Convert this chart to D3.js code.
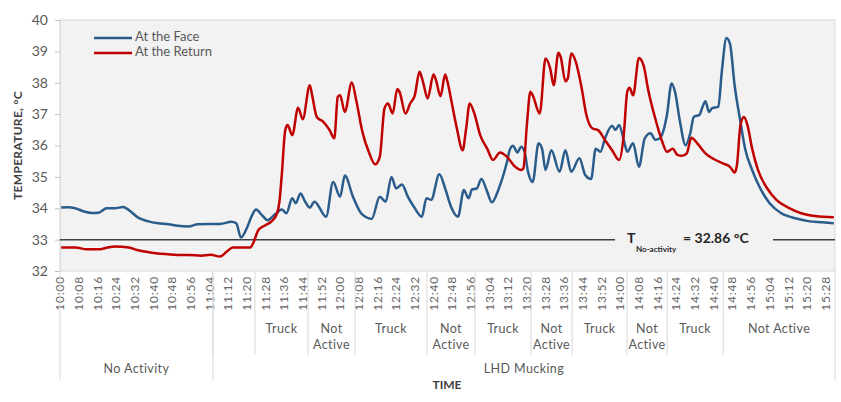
<!DOCTYPE html>
<html>
<head>
<meta charset="utf-8">
<script src="https://cdn.jsdelivr.net/npm/d3@7"></script>
<style>
  body { margin: 0; background: #fff; }
  svg { display: block; font-family: Lato, "Open Sans", sans-serif; }
</style>
</head>
<body>
<div id="chart"></div>
<script>
// Chart size
const width = 841;
const height = 402;
const marginLeft = 60;
const marginRight = 6;
const marginTop = 20;
const plotBottom = 271;

// Data, minutes after 10:00 and temperature in °C
const faceMinutes = [0, 3, 6, 10, 13, 16, 19.5, 23, 26.5, 29, 33, 37, 41.5, 46, 50, 54.5, 58.5, 63.5, 68, 73, 75, 77, 79.5, 81.5, 83.5, 86, 88.5, 91.5, 94.5, 96.5, 99, 100.5, 102.5, 104.5, 106.5, 108.5, 113.5, 116.5, 119.5, 121.5, 125, 128.5, 130.5, 133, 136.5, 139, 141.5, 143.5, 146, 148.5, 151.5, 154.5, 156.5, 158.5, 162, 164.5, 167, 170, 172.5, 174.5, 176, 178, 180, 182.5, 184.5, 187.5, 189, 191, 192, 193.5, 195.5, 197, 198.5, 200, 202, 204.5, 206, 207.5, 210, 213.5, 216, 218.5, 222, 224.5, 227, 229, 231, 233, 236, 237.5, 239, 241, 242.5, 245, 247.5, 250, 252.5, 254.5, 256.5, 259.5, 261.5, 263, 265, 267.5, 269.5, 271, 273.5, 274.5, 276, 277.5, 279, 281.5, 283, 285, 286.5, 288.5, 291, 293, 296, 299.5, 303.5, 308.5, 314.5, 320, 326, 331];
const faceTemps = [34.02, 34.03, 34.0, 33.89, 33.85, 33.86, 34.0, 34.0, 34.04, 33.94, 33.70, 33.59, 33.52, 33.49, 33.44, 33.42, 33.49, 33.5, 33.5, 33.57, 33.52, 33.07, 33.36, 33.73, 33.96, 33.78, 33.62, 33.8, 33.96, 33.84, 34.32, 34.16, 34.47, 34.21, 34.02, 34.21, 33.73, 34.84, 34.37, 35.04, 34.37, 33.84, 33.72, 33.66, 34.37, 34.21, 35.0, 34.63, 34.76, 34.37, 34.0, 33.73, 34.32, 34.27, 35.08, 34.63, 34.05, 33.73, 34.58, 34.32, 34.6, 34.63, 34.93, 34.53, 34.19, 34.63, 34.95, 35.48, 35.82, 35.99, 35.78, 35.96, 35.8, 35.16, 34.84, 36.07, 35.9, 35.22, 35.85, 35.16, 35.85, 35.16, 35.59, 35.06, 34.93, 35.9, 35.8, 36.23, 36.63, 36.5, 36.65, 36.18, 35.8, 36.07, 35.32, 36.23, 36.39, 36.18, 36.23, 36.97, 37.98, 37.7, 36.8, 36.01, 36.39, 36.91, 36.98, 37.18, 37.41, 37.07, 37.2, 37.23, 38.35, 39.43, 39.25, 37.92, 36.75, 35.9, 35.22, 34.63, 34.16, 33.84, 33.68, 33.59, 33.55, 33.52];

const returnMinutes = [0, 6, 11, 16, 19.5, 23, 29, 32.5, 37.5, 44.5, 50, 54.5, 60, 64, 68, 71, 73.5, 77, 81, 82.5, 84.5, 87.5, 90, 92.5, 93.5, 94.5, 96, 97, 99, 101.5, 103.5, 106.5, 107.5, 109.5, 112.5, 115, 117, 118.5, 119.5, 121.5, 124.5, 126.5, 129, 132, 134.5, 136.5, 138.5, 140, 142, 144, 145, 147.5, 149.5, 151.5, 153.5, 155, 157, 159.5, 160.5, 162.5, 164.5, 165.5, 167.5, 169.5, 172, 173.5, 175, 177, 179.5, 182.5, 185, 188, 191, 194.5, 197, 198, 199.5, 201, 202, 205, 207.5, 209.5, 211, 213, 214, 216, 217, 218.5, 220.5, 223, 225, 227.5, 230, 233, 236, 239, 241, 242.5, 243.5, 245, 247.5, 249.5, 251.5, 254.5, 257.5, 259.5, 262, 264, 266, 268, 270, 272.5, 276, 279.5, 283.5, 286.5, 288.5, 289.5, 291, 292.5, 294, 296, 298.5, 302.5, 306.5, 311.5, 317, 323, 331];
const returnTemps = [32.75, 32.75, 32.69, 32.69, 32.74, 32.78, 32.75, 32.67, 32.6, 32.54, 32.51, 32.51, 32.49, 32.52, 32.46, 32.62, 32.75, 32.75, 32.75, 32.93, 33.31, 33.46, 33.57, 33.84, 34.21, 35.06, 36.49, 36.65, 36.33, 37.2, 36.84, 37.92, 37.6, 36.91, 36.74, 36.49, 36.23, 37.55, 37.6, 37.07, 38.01, 37.4, 36.45, 35.75, 35.4, 35.64, 37.18, 37.34, 37.02, 37.8, 37.7, 37.02, 37.34, 37.6, 38.35, 38.03, 37.5, 38.26, 38.1, 37.57, 38.26, 38.03, 37.29, 36.55, 35.85, 36.55, 37.34, 37.02, 36.33, 35.9, 35.54, 35.78, 35.64, 35.32, 35.22, 35.27, 36.65, 37.71, 37.6, 37.02, 38.77, 38.45, 37.92, 38.96, 38.82, 38.05, 38.13, 38.93, 38.66, 37.82, 36.97, 36.55, 36.49, 36.17, 35.85, 35.54, 36.33, 37.71, 37.84, 37.6, 38.79, 38.55, 37.76, 36.86, 36.12, 35.8, 35.9, 35.7, 35.67, 35.75, 36.25, 36.07, 35.75, 35.57, 35.43, 35.32, 35.14, 35.38, 36.65, 36.91, 36.65, 35.9, 35.22, 34.63, 34.26, 34.02, 33.84, 33.75, 33.71];

const seriesNames = ["At the Face", "At the Return"];
const seriesColors = ["#2a5c8b", "#c00000"];

// Axis setup
const firstMinute = 0;
const lastMinute = 331;
const tickStep = 8;
const yTicks = [32, 33, 34, 35, 36, 37, 38, 39, 40];

// Reference line
const baselineLevel = 33;
const baselineLabel = "= 32.86 °C";

// Activity phases (start minute, label)
const activityStarts = [65, 83, 105.75, 125.9, 156.7, 177.3, 201.3, 218.9, 242.4, 259.6, 283.6];
const activityLabels = ["", "Truck", "Not|Active", "Truck", "Not|Active", "Truck", "Not|Active", "Truck", "Not|Active", "Truck", "Not Active"];
const stageStarts = [-0.5, 65];
const stageLabels = ["No Activity", "LHD Mucking"];

const svg = d3.select("#chart")
  .append("svg")
  .attr("width", width)
  .attr("height", height)
  .attr("viewBox", [0, 0, width, height]);

const x = d3.scaleLinear()
  .domain([firstMinute - 0.5, lastMinute + 0.5])
  .range([marginLeft, width - marginRight]);

const y = d3.scaleLinear()
  .domain([32, 40])
  .range([plotBottom, marginTop]);

// Plot background
svg.append("rect")
  .attr("x", x.range()[0])
  .attr("y", marginTop)
  .attr("width", x.range()[1] - x.range()[0])
  .attr("height", plotBottom - marginTop)
  .attr("fill", "#f2f2f2")
  .attr("stroke", "#d9d9d9");

// Y axis
const yAxis = svg.append("g")
  .attr("transform", `translate(${marginLeft},0)`)
  .call(d3.axisLeft(y).tickValues(yTicks).tickSize(5).tickPadding(7));
yAxis.select(".domain").attr("stroke", "#d9d9d9");
yAxis.selectAll(".tick line").attr("stroke", "#bfbfbf");
yAxis.selectAll(".tick text")
  .attr("fill", "#595959")
  .style("font-size", "14px")
  .style("font-family", "Lato, sans-serif");

svg.append("text")
  .attr("transform", `translate(19,${(marginTop + plotBottom) / 2}) rotate(-90)`)
  .attr("text-anchor", "middle")
  .attr("dominant-baseline", "middle")
  .attr("fill", "#404040")
  .style("font-size", "12px")
  .style("font-weight", "bold")
  .style("letter-spacing", "0.3px")
  .text("TEMPERATURE, °C");

// X tick labels (every 8 minutes)
const fmt = m => {
  const h = 10 + Math.floor(m / 60);
  const mm = m % 60;
  return `${h}:${String(mm).padStart(2, "0")}`;
};
const xTicks = d3.range(firstMinute, lastMinute, tickStep);
svg.append("g")
  .selectAll("text")
  .data(xTicks)
  .join("text")
  .attr("transform", d => `translate(${x(d)},${plotBottom + 5}) rotate(-90)`)
  .attr("text-anchor", "end")
  .attr("dominant-baseline", "middle")
  .attr("fill", "#666")
  .style("font-size", "12px")
  .style("letter-spacing", "0.8px")
  .text(fmt);

// Category separators
const sep = svg.append("g").attr("stroke", "#d9d9d9");
sep.selectAll("line.act")
  .data(activityStarts)
  .join("line")
  .attr("x1", d => x(d)).attr("x2", d => x(d))
  .attr("y1", plotBottom).attr("y2", 355);
sep.selectAll("line.stage")
  .data([...stageStarts, lastMinute + 0.5])
  .join("line")
  .attr("class", "stage")
  .attr("x1", d => x(d)).attr("x2", d => x(d))
  .attr("y1", plotBottom).attr("y2", 380);

// Activity labels
const actEnds = [...activityStarts.slice(1), lastMinute + 0.5];
const act = svg.append("g")
  .attr("fill", "#595959")
  .style("font-size", "12.5px")
  .style("letter-spacing", "0.4px");
activityLabels.forEach((lab, i) => {
  const cx = (x(activityStarts[i]) + x(actEnds[i])) / 2;
  lab.split("|").forEach((part, j) => {
    act.append("text")
      .attr("x", cx)
      .attr("y", 330 + j * 16)
      .attr("text-anchor", "middle")
      .attr("dominant-baseline", "middle")
      .text(part);
  });
});

const stageEnds = [...stageStarts.slice(1), lastMinute + 0.5];
svg.append("g")
  .selectAll("text")
  .data(stageLabels)
  .join("text")
  .attr("x", (d, i) => (x(stageStarts[i]) + x(stageEnds[i])) / 2)
  .attr("y", 370)
  .attr("text-anchor", "middle")
  .attr("dominant-baseline", "middle")
  .attr("fill", "#595959")
  .style("font-size", "12.5px")
  .style("letter-spacing", "0.4px")
  .text(d => d);

svg.append("text")
  .attr("x", 447)
  .attr("y", 386)
  .attr("text-anchor", "middle")
  .attr("dominant-baseline", "middle")
  .attr("fill", "#404040")
  .style("font-size", "12px")
  .style("font-weight", "bold")
  .text("TIME");

// Reference line with label
const refY = y(baselineLevel);
const refLabel = svg.append("g").attr("fill", "#262626").style("font-weight", "bold");
refLabel.append("text")
  .attr("x", 627).attr("y", refY)
  .attr("dominant-baseline", "middle")
  .style("font-size", "14px")
  .text("T");
refLabel.append("text")
  .attr("x", 636).attr("y", refY + 10)
  .attr("dominant-baseline", "middle")
  .style("font-size", "8px")
  .text("No-activity");
refLabel.append("text")
  .attr("x", 683).attr("y", refY)
  .attr("dominant-baseline", "middle")
  .style("font-size", "14px")
  .text(baselineLabel);

const refLines = [[x.range()[0], 615], [773, x.range()[1]]];
svg.append("g")
  .selectAll("line")
  .data(refLines)
  .join("line")
  .attr("x1", d => d[0]).attr("x2", d => d[1])
  .attr("y1", refY).attr("y2", refY)
  .attr("stroke", "#404040")
  .attr("stroke-width", 1.5);

// Series lines
const line = d3.line()
  .curve(d3.curveMonotoneX)
  .x(d => x(d[0]))
  .y(d => y(d[1]));

const series = [
  d3.zip(faceMinutes, faceTemps),
  d3.zip(returnMinutes, returnTemps)
];

svg.append("g")
  .selectAll("path")
  .data(series)
  .join("path")
  .attr("fill", "none")
  .attr("stroke", (d, i) => seriesColors[i])
  .attr("stroke-width", 2.5)
  .attr("stroke-linejoin", "round")
  .attr("d", line);

// Legend
const legend = svg.append("g");
seriesNames.forEach((name, i) => {
  const ly = 38 + i * 15;
  legend.append("line")
    .attr("x1", 94).attr("x2", 132)
    .attr("y1", ly).attr("y2", ly)
    .attr("stroke", seriesColors[i])
    .attr("stroke-width", 2.5);
  legend.append("text")
    .attr("x", 135).attr("y", ly)
    .attr("dominant-baseline", "middle")
    .attr("fill", "#595959")
    .style("font-size", "13px")
    .text(name);
});
</script>
</body>
</html>
